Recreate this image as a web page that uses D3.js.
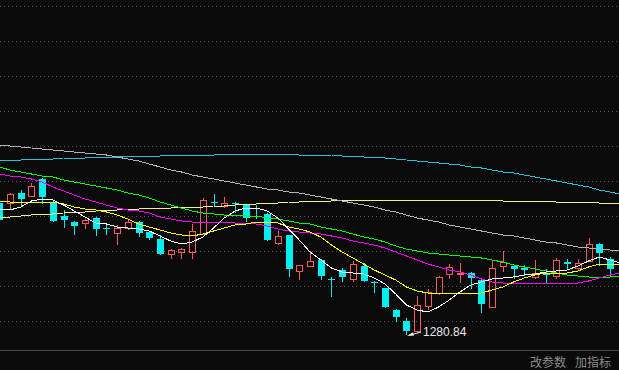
<!DOCTYPE html>
<html>
<head>
<meta charset="utf-8">
<script src="https://cdn.jsdelivr.net/npm/d3@7"></script>
<style>
  body { margin: 0; background: #0a0a0a; }
  svg { display: block; }
</style>
</head>
<body>
<div id="chart"></div>
<script>
// ==============================
// Daily candles
// ==============================
var opens = [1412,1412,1422,1419,1436,1413,1399,1393,1392,1397,
  1387,1382,1387,1393,1383,1376,1361,1363,1363,1381,
  1413,1409,1412,1411,1399,1401,1372,1380,1344,1349,
  1355,1336,1345,1336,1349,1333,1327,1305,1294,1284,
  1309,1322,1341,1341,1342,1335,1308,1349,1349,1347,
  1338,1341,1339,1353,1347,1354,1371,1356];
var highs = [1414,1422,1425,1432,1437,1415,1405,1394,1396,1398,
  1390,1390,1395,1394,1384,1380,1366,1367,1391,1417,
  1421,1418,1413,1411,1410,1402,1384,1380,1350,1364,
  1356,1338,1347,1354,1352,1334,1327,1306,1297,1319,
  1326,1339,1351,1352,1343,1336,1354,1364,1350,1350,
  1355,1346,1357,1356,1356,1377,1372,1358];
var lows = [1393,1407,1410,1419,1412,1394,1388,1381,1387,1380,
  1381,1371,1386,1379,1376,1361,1357,1357,1357,1381,
  1409,1408,1403,1394,1397,1375,1371,1339,1336,1349,
  1336,1319,1334,1334,1334,1323,1308,1294,1280.84,1283,
  1306,1321,1337,1333,1327,1303,1308,1344,1337,1340,
  1337,1333,1337,1347,1346,1354,1350,1340];
var closes = [1395,1421,1416,1429,1418,1394,1395,1389,1395,1386,
  1386,1387,1393,1382,1377,1361,1365,1366,1384,1415,
  1412,1412,1411,1397,1398,1375,1379,1346,1350,1354,
  1339,1335,1338,1351,1334,1332,1308,1298,1284,1310,
  1323,1338,1348,1342,1337,1311,1347,1353,1346,1345,
  1342,1340,1355,1351,1352,1371,1362,1346];

// ==============================
// Moving averages (one value per bar, plus the bar just off the right edge)
// ==============================
var ma5 = [1406,1405,1408,1414,1416,1415,1410,1404,1398,1392,
  1391,1388,1387,1386,1384,1379,1374,1371,1373,1378,
  1387,1397,1404,1407,1407,1404,1397,1386,1375,1363,
  1355,1347,1343,1342,1341,1337,1331,1321,1310,1305,
  1303,1308,1315,1323,1330,1333,1336,1337,1338,1340,
  1341,1343,1344,1345,1349,1354,1358,1355,1352];
var ma10 = [1414,1413,1413,1413,1413,1413,1411,1408,1406,1405,
  1403,1400,1396,1391,1388,1385,1382,1380,1379,1381,
  1384,1387,1390,1391,1393,1393,1392,1388,1386,1383,
  1378,1370,1363,1357,1351,1345,1340,1335,1328,1324,
  1322,1322,1322,1322,1322,1322,1325,1328,1333,1337,
  1340,1342,1342,1342,1344,1348,1351,1351,1351];
var ma20 = [1441,1439,1438,1436,1433,1428,1424,1420,1416,1413,
  1410,1407,1405,1404,1402,1398,1396,1394,1393,1393,
  1393,1393,1392,1392,1391,1389,1386,1384,1383,1382,
  1381,1379,1377,1374,1372,1370,1367,1363,1359,1355,
  1351,1348,1345,1343,1340,1336,1333,1332,1332,1332,
  1332,1332,1332,1332,1332,1334,1337,1340,1342];
var ma30 = [1448,1445,1443,1441,1439,1438,1435,1433,1431,1429,
  1427,1425,1422,1420,1417,1413,1410,1407,1404,1402,
  1401,1400,1400,1399,1399,1397,1396,1394,1392,1391,
  1388,1386,1384,1381,1378,1376,1373,1369,1366,1364,
  1362,1361,1360,1359,1358,1357,1355,1353,1350,1348,
  1346,1344,1342,1340,1339,1338,1338,1338,1339];
var ma60 = [1470,1469,1468,1467,1466,1465,1464,1463,1462,1461,
  1460,1458,1456,1454,1451,1448,1445,1443,1440,1438,
  1436,1434,1432,1430,1428,1426,1425,1423,1422,1420,
  1418,1416,1414,1412,1410,1408,1405,1403,1400,1397,
  1395,1393,1390,1388,1386,1384,1382,1380,1379,1377,
  1375,1373,1372,1370,1368,1367,1366,1365,1365];
var ma120 = [1455,1455,1455,1456,1456,1456,1457,1457,1457,1458,
  1458,1458,1459,1459,1459,1459,1460,1460,1460,1460,
  1460,1461,1461,1461,1461,1461,1461,1461,1460,1460,
  1460,1460,1459,1459,1458,1458,1457,1456,1455,1454,
  1453,1452,1451,1450,1448,1447,1445,1443,1442,1440,
  1438,1436,1434,1432,1430,1428,1425,1423,1421];
var ma250 = [1398,1398,1399,1400,1401,1401,1402,1403,1403,1404,
  1405,1405,1406,1406,1407,1407,1407,1408,1408,1408,
  1409,1409,1410,1411,1411,1412,1412,1413,1413,1414,
  1414,1414,1415,1415,1415,1415,1415,1415,1415,1415,
  1415,1415,1415,1415,1415,1415,1415,1414,1414,1414,
  1414,1414,1413,1413,1413,1413,1412,1412,1412];

var maColors = ["#ffffff", "#ffff00", "#ff00ff", "#00ff00", "#b4b4b4", "#22c4d4", "#f0f08c"];
var maSeries = [ma5, ma10, ma20, ma30, ma60, ma120, ma250];

// pane division lines (price levels)
var gridPrices = [1609, 1574, 1539, 1504, 1469, 1434, 1399, 1364, 1329, 1294];
var lowLabel = "1280.84";
var menuLabels = ["改参数", "加指标"];

// ==============================
// Setup SVG Area
// ==============================
var svgWidth = 619;
var svgHeight = 370;

var svg = d3.select("#chart")
  .append("svg")
  .attr("width", svgWidth)
  .attr("height", svgHeight);

svg.append("rect")
  .attr("width", svgWidth)
  .attr("height", svgHeight)
  .attr("fill", "#0a0a0a");

// Create scale functions
var xScale = d3.scaleLinear()
  .domain([0, 56])
  .range([-0.7, 599.3]);

var yScale = d3.scaleLinear()
  .domain([1615, 1265])
  .range([0, 350]);

// ==============================
// Grid
// ==============================
svg.selectAll(".grid")
  .data(gridPrices)
  .enter()
  .append("line")
  .attr("class", "grid")
  .attr("x1", 0)
  .attr("x2", svgWidth)
  .attr("y1", d => Math.round(yScale(d)) + 0.5)
  .attr("y2", d => Math.round(yScale(d)) + 0.5)
  .attr("stroke", "#5a5a5a")
  .attr("stroke-dasharray", "1,3");

svg.append("line")
  .attr("x1", 0)
  .attr("x2", svgWidth)
  .attr("y1", Math.round(yScale(1265)) + 0.5)
  .attr("y2", Math.round(yScale(1265)) + 0.5)
  .attr("stroke", "#4a4a4a");

// ==============================
// Candles
// ==============================
var candles = opens.map(function(o, i) {
  return { i: i, open: o, high: highs[i], low: lows[i], close: closes[i] };
});

var up = "#ff5a5a";
var down = "#00f0f0";

var cg = svg.append("g").attr("shape-rendering", "crispEdges");

candles.forEach(function(d) {
  var cx = Math.round(xScale(d.i));
  var top = Math.round(yScale(Math.max(d.open, d.close)));
  var bot = Math.round(yScale(Math.min(d.open, d.close)));
  var hy = Math.round(yScale(d.high));
  var ly = Math.round(yScale(d.low));

  if (d.close > d.open) {
    // hollow red
    if (hy < top) {
      cg.append("line").attr("x1", cx + 0.5).attr("x2", cx + 0.5)
        .attr("y1", hy).attr("y2", top).attr("stroke", up);
    }
    if (ly > bot) {
      cg.append("line").attr("x1", cx + 0.5).attr("x2", cx + 0.5)
        .attr("y1", bot + 1).attr("y2", ly + 1).attr("stroke", up);
    }
    cg.append("rect")
      .attr("x", cx - 3 + 0.5)
      .attr("y", top + 0.5)
      .attr("width", 6)
      .attr("height", Math.max(bot - top, 1))
      .attr("fill", "none")
      .attr("stroke", up);
  } else {
    cg.append("line").attr("x1", cx + 0.5).attr("x2", cx + 0.5)
      .attr("y1", hy).attr("y2", ly + 1).attr("stroke", down);
    cg.append("rect")
      .attr("x", cx - 3)
      .attr("y", top)
      .attr("width", 7)
      .attr("height", Math.max(bot - top, 1))
      .attr("fill", down);
  }
});

// ==============================
// Moving average lines
// ==============================
var line = d3.line()
  .x((v, i) => xScale(i))
  .y(v => yScale(v));

maSeries.slice().reverse().forEach(function(s, k) {
  svg.append("path")
    .datum(s)
    .attr("d", line)
    .attr("fill", "none")
    .attr("stroke", maColors[maSeries.length - 1 - k])
    .attr("stroke-width", 1)
    .attr("shape-rendering", "crispEdges");
});

// ==============================
// Lowest price marker
// ==============================
var lowIdx = lows.indexOf(d3.min(lows));
var lx = Math.round(xScale(lowIdx));
var ly = yScale(lows[lowIdx]);

svg.append("line")
  .attr("x1", lx + 15).attr("y1", ly - 2)
  .attr("x2", lx + 3).attr("y2", ly + 1)
  .attr("stroke", "#e8e8e8");

svg.append("path")
  .attr("d", `M${lx + 1},${ly + 1.5} L${lx + 7},${ly - 2} L${lx + 8},${ly + 1.5} Z`)
  .attr("fill", "#e8e8e8");

svg.append("text")
  .attr("x", lx + 17)
  .attr("y", ly + 2)
  .attr("fill", "#e8e8e8")
  .attr("font-family", "Liberation Sans, Arial, sans-serif")
  .attr("font-size", "12px")
  .text(lowLabel);

// ==============================
// Bottom menu text
// ==============================
svg.selectAll(".menu")
  .data(menuLabels)
  .enter()
  .append("text")
  .attr("class", "menu")
  .attr("x", (d, i) => 530 + i * 45)
  .attr("y", 367)
  .attr("fill", "#8c8c8c")
  .attr("font-family", "Noto Sans CJK SC, sans-serif")
  .attr("font-size", "12px")
  .text(d => d);
</script>
</body>
</html>
